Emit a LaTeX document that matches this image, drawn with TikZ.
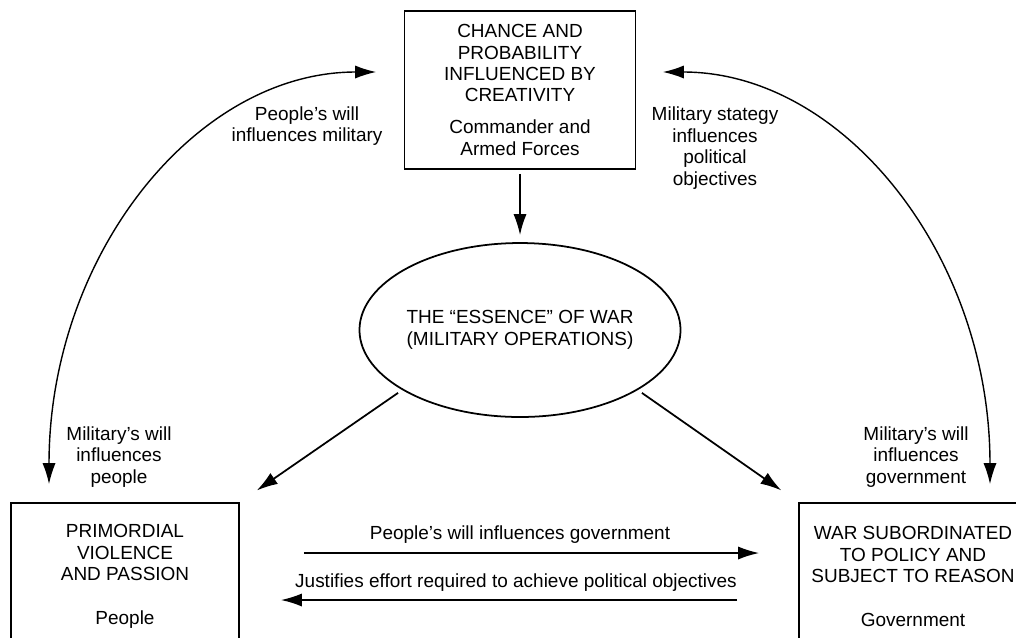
\documentclass[tikz,border=0pt]{standalone}
\usepackage{fontspec}
\setmainfont{Liberation Sans}
\usetikzlibrary{arrows.meta,shapes.geometric}
\tikzset{>={Latex[length=12pt,width=7.5pt]}}
\tikzset{sbox/.style={draw, line width=1pt, align=center, inner sep=0pt, minimum width=4.56cm}}
\tikzset{arr/.style={draw, ->, line width=1pt}}
\tikzset{lbl/.style={align=center, inner sep=0pt}}

\begin{document}
\begin{tikzpicture}[x=0.02cm, y=0.02cm, every node/.style={font=\fontsize{10.8}{12.2}\selectfont}]
	\useasboundingbox (0,0) rectangle (1016,-637);
	\clip (0,0) rectangle (1016,-637);

	\node[sbox, minimum width=4.62cm, minimum height=3.16cm] (cmd) at (520,-90) {CHANCE AND\\PROBABILITY\\INFLUENCED BY\\CREATIVITY\\[6pt]Commander and\\Armed Forces};
	\node[draw, ellipse, line width=1pt, align=center, inner sep=0pt, minimum width=5.48cm, minimum height=3.48cm] (ess) at (520,-330) {THE ``ESSENCE'' OF WAR\\(MILITARY OPERATIONS)};
	\node[sbox, minimum height=2.94cm] (people) at (125,-576.5) {PRIMORDIAL\\VIOLENCE\\AND PASSION\\[12.7pt]People};
	\node[sbox, minimum height=2.94cm] (gov) at (913,-576.5) {WAR SUBORDINATED\\TO POLICY AND\\SUBJECT TO REASON\\[12.7pt]Government};

	\draw[arr, shorten <=0.08cm, shorten >=0.14cm] (cmd) -- (ess);
	\draw[arr, shorten <=0.1cm, shorten >=0.41cm] (ess.207) -- (people.north east);
	\draw[arr, shorten <=0.1cm, shorten >=0.41cm] (ess.333) -- (gov.north west);

	\draw[arr, shorten <=1.28cm, shorten >=0.78cm] ([yshift=0.47cm]people.east) -- ([yshift=0.47cm]gov.west);
	\draw[arr, shorten <=1.22cm, shorten >=0.82cm] ([yshift=-0.47cm]gov.west) -- ([yshift=-0.47cm]people.east);

	\draw[arr, <->, line width=0.8pt] ([xshift=-1.52cm, yshift=0.36cm]people.north) .. controls +(0,228) and +(-181,0) .. ([xshift=-0.55cm, yshift=0.36cm]cmd.west);
	\draw[arr, <->, line width=0.8pt] ([xshift=0.53cm, yshift=0.36cm]cmd.east) .. controls +(181,0) and +(0,228) .. ([xshift=1.54cm, yshift=0.36cm]gov.north);

	\node[lbl] (pm) at (307,-126) {People's will\\influences military};
	\node[lbl] (mp) at (715,-148) {Military stategy\\influences\\political\\objectives};
	\node[lbl] (mpe) at (119,-457) {Military's will\\influences\\people};
	\node[lbl] (mg) at (916,-457) {Military's will\\influences\\government};
	\node[lbl] (pg) at (520,-535) {People's will influences government};
	\node[lbl] (je) at (516,-583) {Justifies effort required to achieve political objectives};
\end{tikzpicture}
\end{document}
